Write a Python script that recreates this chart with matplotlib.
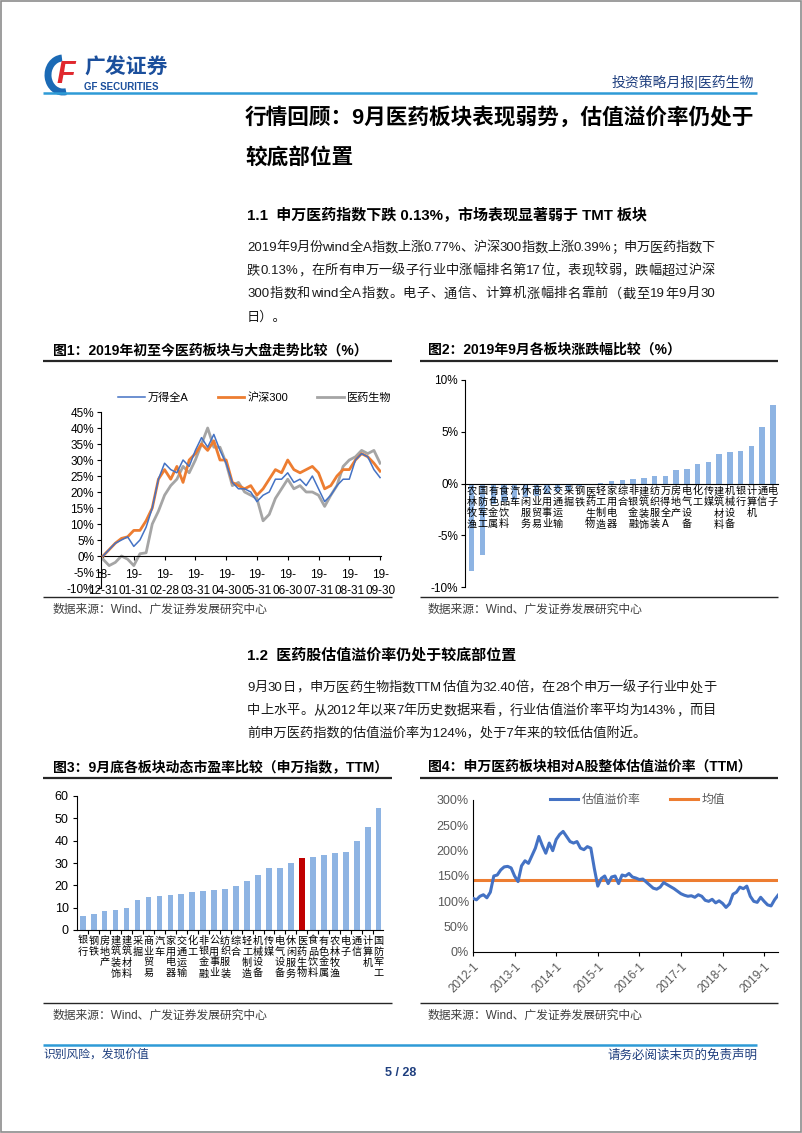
import re
import numpy as np
import matplotlib
matplotlib.use('Agg')
import matplotlib.pyplot as plt
from matplotlib.lines import Line2D
from matplotlib.patches import Rectangle, Arc

# ---------------- data ----------------
# Fig1: cumulative return since 2018-12-31 (%), sampled every ~0.2 month
fig1_ticklabels = ['18-\n12-31', '19-\n01-31', '19-\n02-28', '19-\n03-31', '19-\n04-30',
                   '19-\n05-31', '19-\n06-30', '19-\n07-31', '19-\n08-31', '19-\n09-30']
wind_a = [0, 2, 4, 5, 6, 3, 5, 9, 15, 24, 29, 27, 26, 30, 28, 33, 37, 34, 38, 33, 29, 23, 21, 21, 20,
          17, 19, 20, 24, 24, 26, 23, 24, 22, 25, 21, 17, 19, 22, 24, 24, 30, 32, 31, 27, 24.5]
hs300 = [0, 2, 4, 5.5, 6, 8, 8, 11, 15, 24, 27, 24, 28, 23, 30, 32, 35, 33, 36, 30, 30, 23, 22, 21, 22,
         19, 21, 24, 27, 26, 30, 27, 26, 27, 28, 26, 21, 22, 25, 27, 27, 30, 32, 31, 29, 26.5]
pharma = [-1, -3, -2, 0, -1, -3, 0.7, 1, 10, 14, 19, 22, 24, 28, 26, 30, 35, 40, 34, 34, 29, 22, 23, 20, 19,
          18, 11, 13, 18, 21, 24, 21, 22, 20, 20, 19, 15.5, 19, 22, 28, 30, 31, 33, 32, 33, 29]
fig1_series_names = ['万得全A', '沪深300', '医药生物']

# Fig2: Sep-2019 sector returns (%)
fig2_labels = ['农林牧渔', '国防军工', '有色金属', '食品饮料', '汽车', '休闲服务', '商业贸易', '公用事业',
               '交通运输', '采掘', '钢铁', '医药生物', '轻工制造', '家用电器', '综合', '非银金融', '建筑装饰',
               '纺织服装', '万得全A', '房地产', '电气设备', '化工', '传媒', '建筑材料', '机械设备', '银行',
               '计算机', '通信', '电子']
fig2_values = [-8.45, -6.9, -2.0, -1.8, -1.6, -1.3, -1.2, -1.0, -0.8, -0.6, -0.25, -0.13, 0.05, 0.22,
               0.29, 0.48, 0.54, 0.72, 0.77, 1.27, 1.43, 1.85, 2.07, 2.83, 3.0, 3.12, 3.6, 5.48, 7.55]

# Fig3: PE TTM by sector
fig3_labels = ['银行', '钢铁', '房地产', '建筑装饰', '建筑材料', '采掘', '商业贸易', '汽车', '家用电器',
               '交通运输', '化工', '非银金融', '公用事业', '纺织服装', '综合', '轻工制造', '机械设备', '传媒',
               '电气设备', '休闲服务', '医药生物', '食品饮料', '有色金属', '农林牧渔', '电子', '通信',
               '计算机', '国防军工']
fig3_values = [6.4, 7.3, 8.5, 9.1, 10.0, 13.6, 14.9, 15.2, 15.8, 16.3, 17.0, 17.6, 18.1, 18.2, 19.7,
               22.1, 24.8, 27.6, 27.6, 30.1, 32.4, 32.5, 33.6, 34.3, 34.9, 39.7, 46.0, 54.8]
fig3_highlight = '医药生物'

# Fig4: monthly valuation premium (%) 2012-01 .. 2019-05
premium = [106, 103, 110, 113, 107, 118, 150, 152, 162, 168, 169, 166,
           150, 139, 170, 180, 175, 190, 205, 228, 210, 195, 215, 200,
           222, 232, 238, 228, 218, 215, 218, 205, 202, 208, 205, 165,
           130, 145, 150, 135, 148, 150, 135, 152, 150, 155, 148, 146,
           143, 144, 138, 132, 126, 124, 128, 137, 133, 129, 125, 120,
           115, 112, 110, 111, 108, 113, 110, 102, 100, 104, 97, 101,
           96, 88, 95, 114, 118, 128, 125, 130, 110, 100, 98, 108,
           100, 93, 91, 103, 112]
premium_mean = 143
fig4_ticklabels = ['2012-1', '2013-1', '2014-1', '2015-1', '2016-1', '2017-1', '2018-1', '2019-1']
fig4_series_names = ['估值溢价率', '均值']

# ---------------- style ----------------
plt.rcParams['font.family'] = ['Liberation Sans', 'Noto Sans CJK SC']
plt.rcParams['axes.unicode_minus'] = False

BLUE = '#4472C4'
ORANGE = '#ED7D31'
GRAY = '#A5A5A5'
BAR = '#8EB4E3'
RED = '#C00000'
NAVY = '#1F3F7F'

W, H = 802, 1133
fig = plt.figure(figsize=(W / 100, H / 100), dpi=100)
renderer = fig.canvas.get_renderer()


def fx(x):
    return x / W


def fy(y):
    return 1 - y / H


def axes_px(x0, y0, x1, y1):
    return fig.add_axes([fx(x0), fy(y1), (x1 - x0) / W, (y1 - y0) / H])


def hline(x0, x1, y, color, lw):
    fig.add_artist(Line2D([fx(x0), fx(x1)], [fy(y), fy(y)], transform=fig.transFigure,
                          color=color, lw=lw, solid_capstyle='butt'))


def txt(x, y, s, **kw):
    kw.setdefault('va', 'center')
    return fig.text(fx(x), fy(y), s, **kw)


def justified(x0, x1, y, s, **kw):
    """Place a line of text so that it fills x0..x1 (like a justified paragraph line)."""
    toks = re.findall(r'[A-Za-z0-9.%]+|.', s)
    arts = [txt(x0, y, t, **kw) for t in toks]
    widths = [a.get_window_extent(renderer).width for a in arts]
    gap = (x1 - x0 - sum(widths)) / max(len(toks) - 1, 1)
    x = x0
    for a, w in zip(arts, widths):
        a.set_x(fx(x))
        x += w + gap


# page frame
fig.add_artist(Rectangle((0.001, 0.001), 0.998, 0.998, transform=fig.transFigure,
                         fill=False, ec='#8c8c8c', lw=1.2))

# ---------------- header ----------------
fig.add_artist(Arc((fx(63), fy(75)), 30 / W, 34 / H, theta1=95, theta2=285,
                   transform=fig.transFigure, color='#1B6AB5', lw=5))
txt(66, 75, 'F', fontsize=22, fontweight='bold', style='italic', color='#E0282E', ha='center')
txt(84, 68, '广发证券', fontsize=15, fontweight='bold', color='#1B4F9C')
txt(84, 87, 'GF SECURITIES', fontsize=7, fontweight='bold', color='#1B4F9C')
txt(754, 82, '投资策略月报|医药生物', ha='right', fontsize=10, color=NAVY)
hline(43, 757, 93, '#2E9BD6', 1.8)

txt(245, 118, '行情回顾：9月医药板块表现弱势，估值溢价率仍处于', fontsize=15.6, fontweight='bold')
txt(245, 158, '较底部位置', fontsize=15.6, fontweight='bold')

txt(247, 215, '1.1  申万医药指数下跌 0.13%，市场表现显著弱于 TMT 板块', fontsize=10.8, fontweight='bold')
para1 = ['2019年9月份wind全A指数上涨0.77%、沪深300指数上涨0.39%；申万医药指数下',
         '跌0.13%，在所有申万一级子行业中涨幅排名第17位，表现较弱，跌幅超过沪深',
         '300指数和wind全A指数。电子、通信、计算机涨幅排名靠前（截至19年9月30',
         '日）。']
for i, line in enumerate(para1):
    if i < len(para1) - 1:
        justified(247, 715, 248 + 23.2 * i, line, fontsize=9.5, color='#1a1a1a')
    else:
        txt(247, 248 + 23.2 * i, line, fontsize=9.5, color='#1a1a1a')

txt(247, 655, '1.2  医药股估值溢价率仍处于较底部位置', fontsize=10.8, fontweight='bold')
para2 = ['9月30日，申万医药生物指数TTM估值为32.40倍，在28个申万一级子行业中处于',
         '中上水平。从2012年以来7年历史数据来看，行业估值溢价率平均为143%，而目',
         '前申万医药指数的估值溢价率为124%，处于7年来的较低估值附近。']
for i, line in enumerate(para2):
    if i < len(para2) - 1:
        justified(247, 716, 688 + 23 * i, line, fontsize=9.5, color='#1a1a1a')
    else:
        txt(247, 688 + 23 * i, line, fontsize=9.5, color='#1a1a1a')

# chart frames
for (x0, x1) in [(43, 392), (420, 778)]:
    hline(x0, x1, 361, '#262626', 1.6)
    hline(x0, x1, 597, '#262626', 1.0)
    hline(x0, x1, 778, '#262626', 1.6)
    hline(x0, x1, 1003, '#262626', 1.0)
txt(53, 350, '图1：2019年初至今医药板块与大盘走势比较（%）', fontsize=10, fontweight='bold')
txt(428, 350, '图2：2019年9月各板块涨跌幅比较（%）', fontsize=10, fontweight='bold')
txt(53, 767, '图3：9月底各板块动态市盈率比较（申万指数，TTM）', fontsize=10, fontweight='bold')
txt(428, 767, '图4：申万医药板块相对A股整体估值溢价率（TTM）', fontsize=10, fontweight='bold')
src = '数据来源：Wind、广发证券发展研究中心'
for (x, y) in [(53, 610), (428, 610), (53, 1016), (428, 1016)]:
    txt(x, y, src, fontsize=8.5, color='#404040')

# footer
hline(43, 757, 1045, '#2E9BD6', 1.8)
txt(43, 1055, '识别风险，发现价值', fontsize=8.5, color=NAVY)
txt(757, 1056, '请务必阅读末页的免责声明', fontsize=9, color=NAVY, ha='right')
txt(401, 1073, '5 / 28', fontsize=9, fontweight='bold', color=NAVY, ha='center')


def base_style(ax):
    for s in ['top', 'right']:
        ax.spines[s].set_visible(False)
    for s in ['left', 'bottom']:
        ax.spines[s].set_color('#000000')
        ax.spines[s].set_linewidth(0.8)
    ax.set_facecolor('none')


def vlabel(s):
    return '\n'.join(list(s))


# ---------------- Fig 1 ----------------
ax1 = axes_px(101, 412, 381, 588)
base_style(ax1)
x1 = np.arange(len(wind_a)) * 0.2
l_g, = ax1.plot(x1, pharma, color=GRAY, lw=2.0, zorder=2)
l_o, = ax1.plot(x1, hs300, color=ORANGE, lw=2.0, zorder=3)
l_b, = ax1.plot(x1, wind_a, color=BLUE, lw=1.1, zorder=4)
ax1.set_xlim(-0.065, 9.03)
ax1.set_ylim(-10, 45)
ax1.spines['bottom'].set_position(('data', 0))
ax1.set_xticks(range(len(fig1_ticklabels)))
ax1.set_xticklabels(fig1_ticklabels, fontsize=8.5, linespacing=1.55)
ax1.set_yticks(range(-10, 46, 5))
ax1.set_yticklabels([f'{v}%' for v in range(-10, 46, 5)], fontsize=8.5)
ax1.tick_params(axis='x', length=3, pad=6, width=0.8)
ax1.tick_params(axis='y', length=3, pad=2, width=0.8)
ax1.legend([l_b, l_o, l_g], fig1_series_names, ncol=3, frameon=False, fontsize=8,
           loc='center', bbox_to_anchor=(0.55, 1.08), handlelength=2.4, columnspacing=2.6,
           handletextpad=0.3)

# ---------------- Fig 2 ----------------
ax2 = axes_px(465, 380, 778, 587)
base_style(ax2)
idx2 = np.arange(len(fig2_labels))
ax2.bar(idx2, fig2_values, width=0.5, color=BAR, zorder=1)
ax2.xaxis.set_zorder(3)
ax2.set_xlim(-0.62, 28.47)
ax2.set_ylim(-10, 10)
ax2.spines['bottom'].set_position(('data', 0))
ax2.set_xticks(idx2)
ax2.set_xticklabels([vlabel(s) for s in fig2_labels], fontsize=7.3, linespacing=1.12, va='top')
ax2.tick_params(axis='x', length=0, pad=2)
ax2.set_yticks([-10, -5, 0, 5, 10])
ax2.set_yticklabels(['-10%', '-5%', '0%', '5%', '10%'], fontsize=8.5)
ax2.tick_params(axis='y', length=3, pad=2, width=0.8)

# ---------------- Fig 3 ----------------
ax3 = axes_px(77, 796, 383, 930)
base_style(ax3)
idx3 = np.arange(len(fig3_labels))
cols3 = [RED if s == fig3_highlight else BAR for s in fig3_labels]
ax3.bar(idx3, fig3_values, width=0.52, color=cols3, zorder=1)
ax3.set_xlim(-0.52, 27.4)
ax3.set_ylim(0, 60)
ax3.set_xticks(idx3)
ax3.set_xticklabels([vlabel(s) for s in fig3_labels], fontsize=7.3, linespacing=1.12, va='top')
ax3.set_xticks(idx3[:-1] + 0.5, minor=True)
ax3.tick_params(axis='x', which='major', length=0, pad=4)
ax3.tick_params(axis='x', which='minor', length=3, width=0.8)
ax3.set_yticks(range(0, 61, 10))
ax3.tick_params(axis='y', length=3, pad=3, width=0.8, labelsize=9)

# ---------------- Fig 4 ----------------
ax4 = axes_px(473, 800, 778, 952)
base_style(ax4)
idx4 = np.arange(len(premium))
l_p, = ax4.plot(idx4, premium, color=BLUE, lw=2.2, zorder=3)
l_m, = ax4.plot(idx4, [premium_mean] * len(premium), color=ORANGE, lw=2.2, zorder=2)
ax4.set_xlim(0, 88)
ax4.set_ylim(0, 300)
ax4.set_xticks(range(0, 85, 12))
ax4.set_xticklabels(fig4_ticklabels, rotation=45, ha='right', rotation_mode='anchor',
                    fontsize=8.5, color='#595959')
ax4.tick_params(axis='x', length=3, pad=3, width=0.8)
ax4.set_yticks(range(0, 301, 50))
ax4.set_yticklabels([f'{v}%' for v in range(0, 301, 50)], fontsize=9, color='#595959')
ax4.tick_params(axis='y', length=0, pad=3)
leg4 = ax4.legend([l_p, l_m], fig4_series_names, ncol=2, frameon=False, fontsize=8.5,
                  loc='center', bbox_to_anchor=(0.54, 1.0), handlelength=2.4, columnspacing=2.5,
                  handletextpad=0.3)
for t in leg4.get_texts():
    t.set_color('#595959')

fig.savefig('out.png', dpi=100)
